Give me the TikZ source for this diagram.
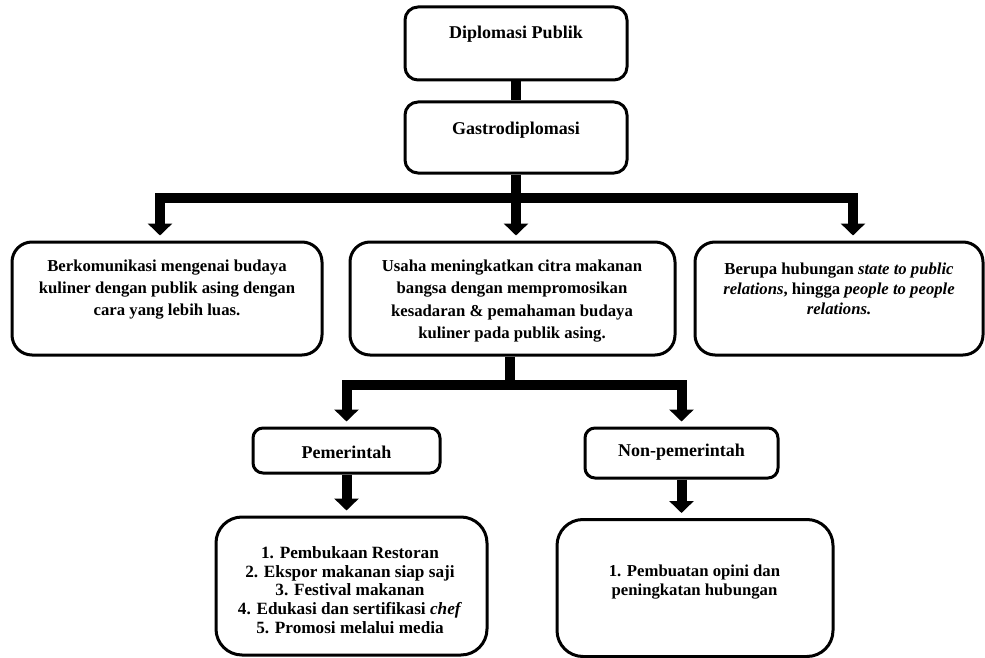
\documentclass[tikz,border=0pt]{standalone}
\usepackage{fontspec}
\setmainfont{Liberation Serif}
\usetikzlibrary{arrows.meta}
\begin{document}
\begin{tikzpicture}[x=1pt,y=-1pt,
  box/.style={draw, line width=3pt, fill=white, inner sep=0pt},
  txt/.style={align=center, inner sep=0pt, font=\fontsize{16.7}{22}\selectfont\bfseries},
  bigtxt/.style={txt, font=\fontsize{18}{22}\selectfont\bfseries},
  bar/.style={line width=10pt},
  arr/.style={bar, -{Triangle[width=24pt,length=12pt]}, shorten >=5pt}]
\useasboundingbox (0,0) rectangle (985,658);
\coordinate (jc) at (516,198);
\coordinate (jm) at (510,385);
% boxes
\node[box, rounded corners=13pt, minimum width=222pt, minimum height=73pt] (dp) at (516,43.5) {};
\node[box, rounded corners=13pt, minimum width=222pt, minimum height=71pt] (gd) at (516,137.5) {};
\node[box, rounded corners=20pt, minimum width=310pt, minimum height=113pt] (left) at (167,298.5) {};
\node[box, rounded corners=20pt, minimum width=325pt, minimum height=113pt] (mid) at (512.5,298.5) {};
\node[box, rounded corners=20pt, minimum width=288pt, minimum height=113pt] (right) at (839,298.5) {};
\node[box, rounded corners=10pt, minimum width=187pt, minimum height=45pt] (pem) at (346.5,450.5) {};
\node[box, rounded corners=10pt, minimum width=193pt, minimum height=50pt] (non) at (681.5,453) {};
\node[box, rounded corners=26pt, minimum width=271pt, minimum height=138pt] (bl) at (351.5,586) {};
\node[box, rounded corners=26pt, minimum width=276pt, minimum height=137pt] (br) at (695,588) {};
% connectors
\draw[bar] (dp.south) -- (gd.north);
\draw[bar] (gd.south) -- (jc);
\draw[arr] (jc) -| ([xshift=-7pt]left.north);
\draw[arr] (jc) -| ([xshift=14pt]right.north);
\draw[arr] (jc) -- (jc |- mid.north);
\draw[bar] (jm |- mid.south) -- (jm);
\draw[arr] (jm) -| (pem.north);
\draw[arr] (jm) -| (non.north);
\draw[arr] (pem.south) -- (pem.south |- bl.north);
\draw[arr] (non.south) -- (non.south |- br.north);
% texts
\node[bigtxt] (dpT) at (516,34) {Diplomasi Publik};
\node[bigtxt] (gdT) at (516,130) {Gastrodiplomasi};
\node[txt] (leftT) at (167,290) {Berkomunikasi mengenai budaya\\kuliner dengan publik asing dengan\\cara yang lebih luas.};
\node[txt, font=\fontsize{16.7}{22.5}\selectfont\bfseries] (midT) at (512,301) {Usaha meningkatkan citra makanan\\bangsa dengan mempromosikan\\kesadaran \& pemahaman budaya\\kuliner pada publik asing.};
\node[txt, font=\fontsize{16.7}{20}\selectfont\bfseries] (rightT) at (839,289) {Berupa hubungan \textit{state to public}\\\textit{relations}, hingga \textit{people to people}\\\textit{relations.}};
\node[bigtxt] (pemT) at (346.5,452) {Pemerintah};
\node[bigtxt] (nonT) at (681.5,452) {Non-pemerintah};
\node[txt, font=\fontsize{17.2}{18.8}\selectfont\bfseries] (blT) at (350,590) {1. Pembukaan Restoran\\2. Ekspor makanan siap saji\\3. Festival makanan\\4. Edukasi dan sertifikasi \textit{chef}\\5. Promosi melalui media};
\node[txt, font=\fontsize{16.7}{18.5}\selectfont\bfseries] (brT) at (694.5,582) {1. Pembuatan opini dan\\peningkatan hubungan};
\end{tikzpicture}
\end{document}
